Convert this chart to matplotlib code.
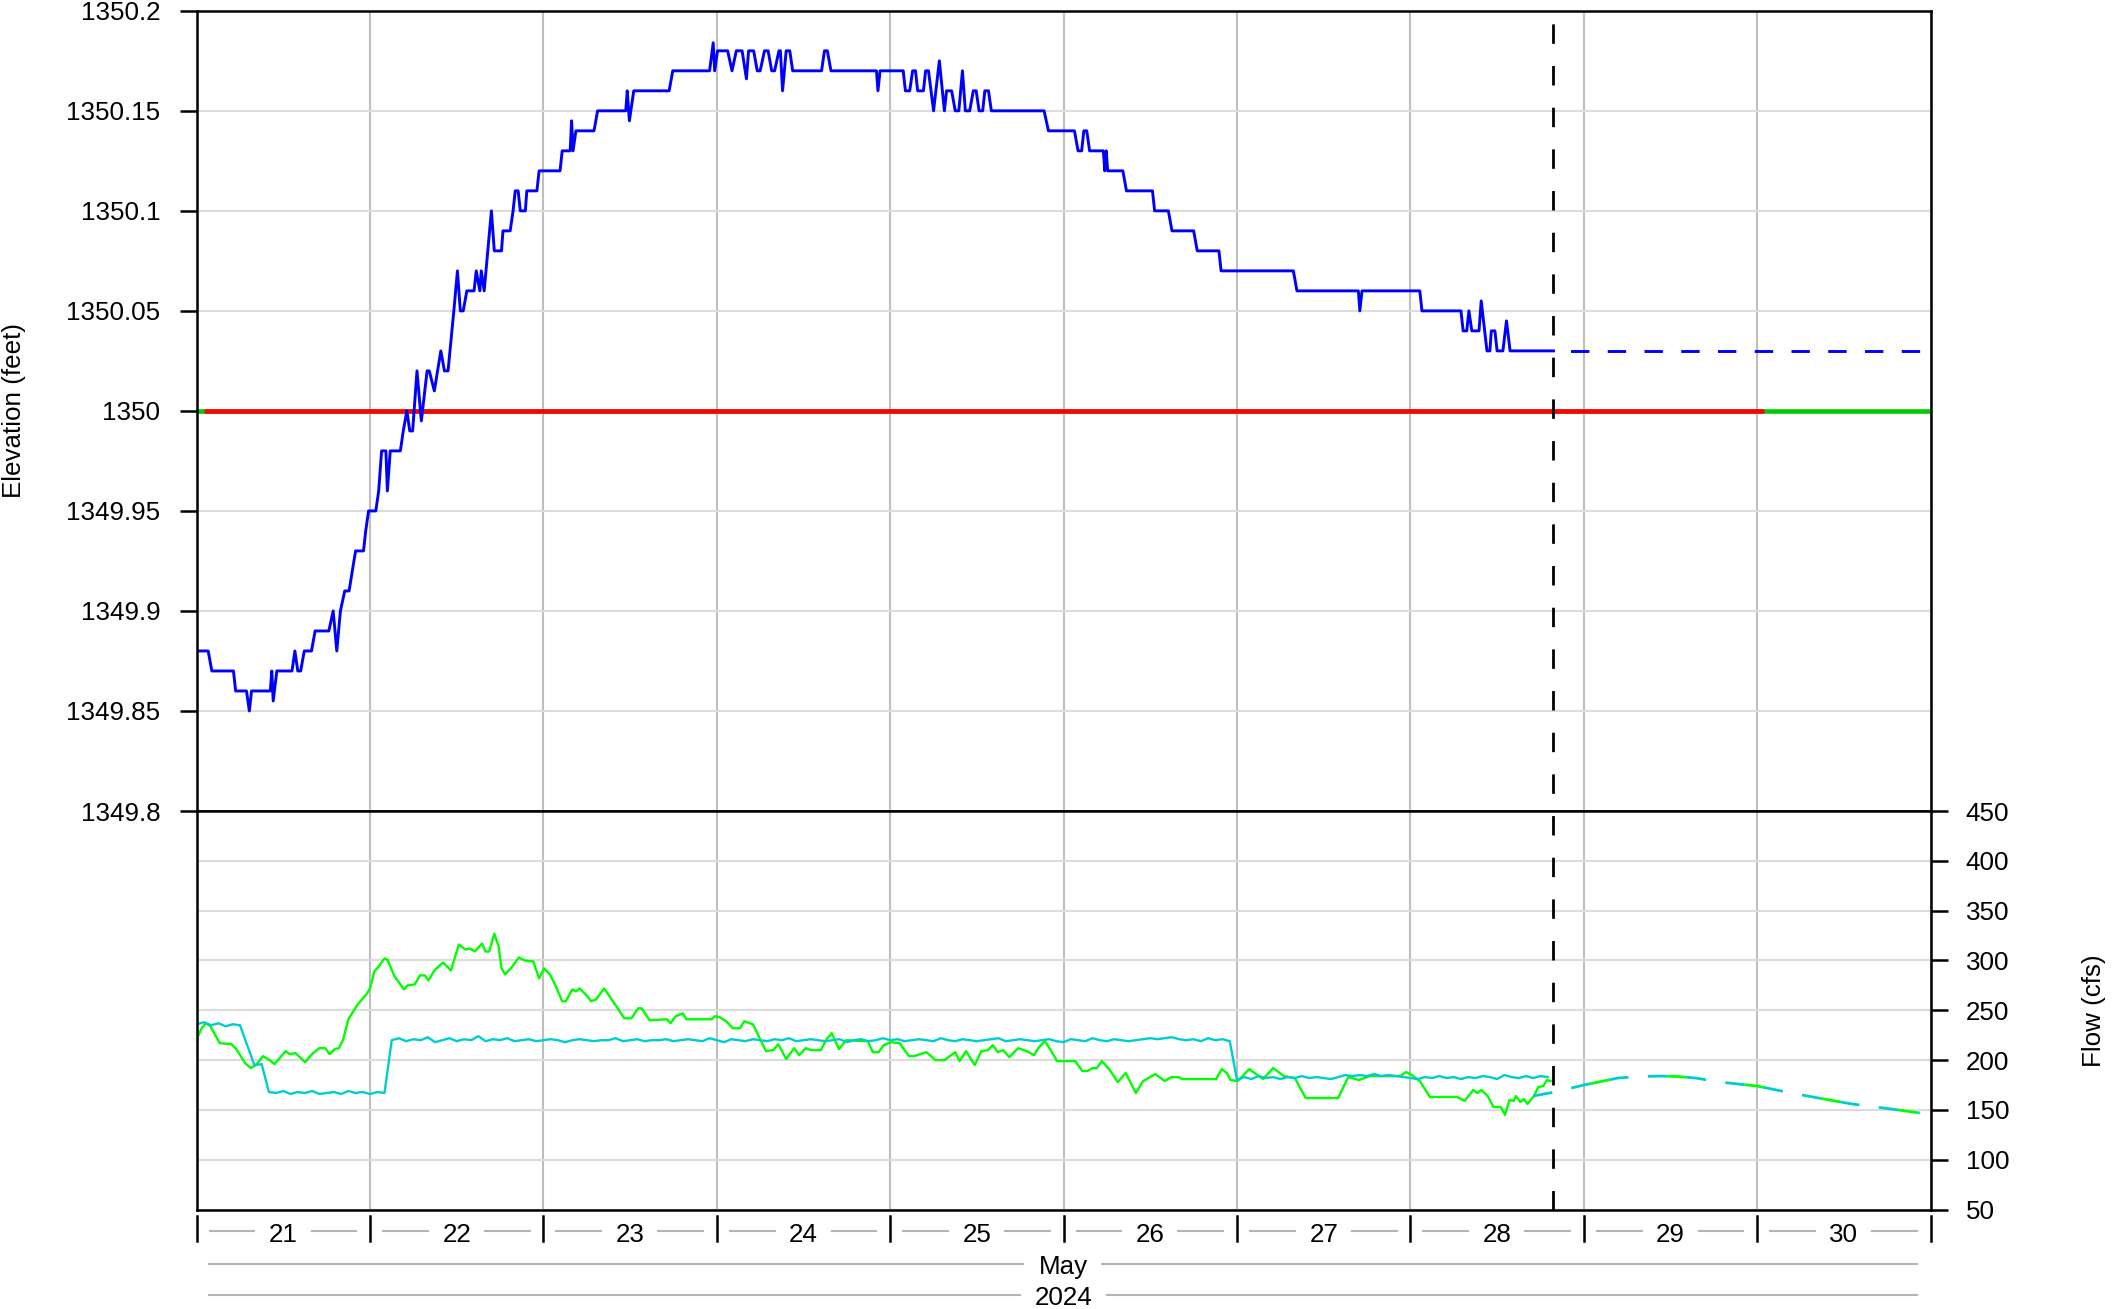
import matplotlib
matplotlib.use("Agg")
import matplotlib.pyplot as plt
import matplotlib.transforms as mtransforms
from matplotlib.lines import Line2D
import numpy as np

plt.rcParams['font.family'] = ['Liberation Sans', 'DejaVu Sans']

# time axis: hours since 2024-05-21 00:00
day_edges = [0, 24, 48, 72, 96, 120, 144, 168, 192, 216, 240]
day_labels = ['21', '22', '23', '24', '25', '26', '27', '28', '29', '30']
month_label = 'May'
year_label = '2024'
now_h = 187.8

# reservoir elevation (feet), observed
elev_t = [0, 1.6, 2.1, 5.1, 5.4, 6.9, 7.3, 7.6, 10.2, 10.4,
          10.6, 11.1, 13.2, 13.6, 14.0, 14.4, 14.9, 15.9, 16.4, 18.3,
          18.9, 19.4, 19.9, 20.5, 21.1, 22.0, 23.1, 23.4, 23.8, 24.8,
          25.2, 25.6, 26.2, 26.4, 26.8, 28.2, 28.6, 29.1, 29.5, 29.9,
          30.5, 31.1, 31.9, 32.2, 32.9, 33.8, 34.3, 34.8, 35.6, 36.1,
          36.5, 36.9, 37.4, 38.4, 38.7, 39.2, 39.4, 39.8, 40.3, 40.8,
          41.2, 42.2, 42.4, 43.4, 43.8, 44.1, 44.5, 44.8, 45.5, 45.7,
          47.1, 47.4, 50.3, 50.6, 51.7, 51.9, 52.1, 52.5, 55.0, 55.5,
          59.4, 59.6, 59.9, 60.5, 65.4, 65.9, 71.0, 71.5, 71.7, 72.1,
          73.5, 74.1, 74.7, 75.5, 76.1, 76.4, 77.1, 77.6, 78.0, 78.6,
          79.1, 79.6, 80.0, 80.6, 80.8, 81.1, 81.6, 82.1, 82.5, 86.5,
          86.9, 87.3, 87.8, 94.1, 94.3, 94.6, 97.8, 98.1, 98.7, 99.1,
          99.5, 99.8, 100.6, 100.9, 101.3, 102.0, 102.8, 103.5, 103.8, 104.5,
          105.0, 105.5, 106.0, 106.4, 107.0, 107.5, 107.9, 108.3, 108.8, 109.1,
          109.6, 110.0, 117.3, 117.9, 121.5, 122.0, 122.5, 122.8, 123.2, 123.6,
          125.5, 125.7, 125.9, 126.1, 128.2, 128.7, 132.3, 132.6, 134.5, 135.0,
          138.0, 138.5, 141.5, 141.8, 151.8, 152.3, 160.8, 161.0, 161.3, 169.3,
          169.6, 175.0, 175.3, 175.8, 176.1, 176.5, 177.5, 177.8, 178.6, 179.0,
          179.2, 179.7, 180.0, 180.8, 181.3, 181.8, 187.8]
elev_v = [1349.88, 1349.88, 1349.87, 1349.87, 1349.86, 1349.86, 1349.85, 1349.86, 1349.86, 1349.87,
          1349.855, 1349.87, 1349.87, 1349.88, 1349.87, 1349.87, 1349.88, 1349.88, 1349.89, 1349.89,
          1349.90, 1349.88, 1349.90, 1349.91, 1349.91, 1349.93, 1349.93, 1349.94, 1349.95, 1349.95,
          1349.96, 1349.98, 1349.98, 1349.96, 1349.98, 1349.98, 1349.99, 1350.00, 1349.99, 1349.99,
          1350.02, 1349.995, 1350.02, 1350.02, 1350.01, 1350.03, 1350.02, 1350.02, 1350.05, 1350.07,
          1350.05, 1350.05, 1350.06, 1350.06, 1350.07, 1350.06, 1350.07, 1350.06, 1350.08, 1350.10,
          1350.08, 1350.08, 1350.09, 1350.09, 1350.10, 1350.11, 1350.11, 1350.10, 1350.10, 1350.11,
          1350.11, 1350.12, 1350.12, 1350.13, 1350.13, 1350.145, 1350.13, 1350.14, 1350.14, 1350.15,
          1350.15, 1350.16, 1350.145, 1350.16, 1350.16, 1350.17, 1350.17, 1350.184, 1350.17, 1350.18,
          1350.18, 1350.17, 1350.18, 1350.18, 1350.166, 1350.18, 1350.18, 1350.17, 1350.17, 1350.18,
          1350.18, 1350.17, 1350.17, 1350.18, 1350.18, 1350.16, 1350.18, 1350.18, 1350.17, 1350.17,
          1350.18, 1350.18, 1350.17, 1350.17, 1350.16, 1350.17, 1350.17, 1350.16, 1350.16, 1350.17,
          1350.17, 1350.16, 1350.16, 1350.17, 1350.17, 1350.15, 1350.175, 1350.15, 1350.16, 1350.16,
          1350.15, 1350.15, 1350.17, 1350.15, 1350.15, 1350.16, 1350.16, 1350.15, 1350.15, 1350.16,
          1350.16, 1350.15, 1350.15, 1350.14, 1350.14, 1350.13, 1350.13, 1350.14, 1350.14, 1350.13,
          1350.13, 1350.12, 1350.13, 1350.12, 1350.12, 1350.11, 1350.11, 1350.10, 1350.10, 1350.09,
          1350.09, 1350.08, 1350.08, 1350.07, 1350.07, 1350.06, 1350.06, 1350.05, 1350.06, 1350.06,
          1350.05, 1350.05, 1350.04, 1350.04, 1350.05, 1350.04, 1350.04, 1350.055, 1350.03, 1350.03,
          1350.04, 1350.04, 1350.03, 1350.03, 1350.045, 1350.03, 1350.03]

# projected elevation and target level
elev_fcst_t = [187.8, 239.0]
elev_fcst_v = [1350.03, 1350.03]
target_level = 1350.0
target_span = [0, 240]
target_red_span = [1, 217]

# inflow (green), cfs
inflow_t = [0, 0.7, 1.3, 1.9, 3.2, 4.8, 5.5, 6.7, 7.5, 8.2,
            9.2, 9.9, 10.8, 12.3, 12.9, 13.7, 15.0, 16.1, 17.0, 17.8,
            18.4, 19.1, 19.7, 20.3, 21.0, 22.3, 23.5, 24.0, 24.6, 25.2,
            26.0, 26.4, 27.4, 28.7, 29.2, 30.2, 30.9, 31.6, 32.1, 32.9,
            34.1, 35.2, 36.3, 37.2, 37.8, 38.5, 39.5, 40.0, 40.5, 41.2,
            41.8, 42.2, 42.7, 43.7, 44.6, 45.4, 46.6, 47.4, 48.1, 48.9,
            49.6, 50.6, 51.1, 52.0, 52.5, 53.0, 54.1, 54.6, 55.3, 56.4,
            58.0, 59.2, 60.2, 61.1, 61.6, 62.7, 65.1, 65.6, 66.3, 67.0,
            67.3, 67.8, 71.3, 71.7, 72.4, 73.3, 74.2, 75.2, 75.8, 77.0,
            77.8, 78.8, 79.8, 80.5, 81.6, 82.7, 83.4, 84.3, 85.0, 86.4,
            87.2, 87.9, 88.9, 89.9, 92.9, 93.6, 94.4, 95.1, 96.1, 97.3,
            98.6, 99.3, 101.0, 102.3, 103.5, 105.0, 105.6, 106.5, 107.7, 108.6,
            109.5, 110.2, 110.9, 111.6, 112.5, 113.7, 114.9, 115.9, 116.6, 117.4,
            118.3, 119.1, 121.6, 122.6, 123.3, 124.0, 124.6, 125.3, 126.3, 127.5,
            128.6, 130.0, 131.0, 132.7, 134.0, 134.9, 135.9, 136.4, 141.1, 141.9,
            142.6, 143.1, 144.1, 145.7, 147.6, 149.0, 150.5, 152.0, 153.5, 158.0,
            159.4, 160.9, 162.4, 166.6, 167.4, 168.2, 169.3, 170.7, 174.5, 175.5,
            176.7, 177.3, 177.8, 178.7, 179.5, 180.5, 181.1, 181.7, 182.3, 182.6,
            183.2, 183.7, 184.2, 185.1, 185.7, 186.4, 186.9, 187.4]
inflow_q = [221, 232, 237, 234, 217, 216, 211, 197, 192, 195,
            204, 201, 196, 209, 206, 207, 198, 207, 212, 212,
            206, 211, 212, 221, 241, 256, 266, 272, 289, 294,
            302, 301, 284, 271, 275, 276, 285, 285, 280, 290,
            298, 290, 316, 311, 312, 309, 317, 309, 309, 327,
            314, 292, 286, 294, 303, 300, 299, 282, 292, 286,
            276, 259, 259, 271, 269, 272, 264, 259, 261, 272,
            255, 242, 242, 252, 252, 240, 241, 237, 244, 246,
            247, 241, 241, 244, 243, 239, 232, 232, 239, 236,
            224, 209, 210, 216, 201, 212, 205, 212, 210, 210,
            221, 227, 211, 220, 219, 208, 208, 215, 218, 217,
            204, 204, 208, 200, 200, 208, 199, 209, 195, 209,
            210, 215, 208, 210, 203, 212, 209, 205, 213, 219,
            209, 199, 199, 189, 189, 192, 192, 199, 191, 178,
            187, 167, 179, 186, 179, 183, 183, 181, 181, 191,
            187, 180, 179, 191, 181, 192, 184, 182, 162, 162,
            183, 180, 184, 184, 188, 185, 179, 163, 163, 159,
            170, 167, 170, 164, 153, 153, 145, 160, 159, 164,
            158, 161, 156, 164, 173, 174, 180, 179]

# release (cyan), one value per hour from hour 0 to 187
release_q = [236, 238, 235, 237, 234, 236, 235, 215, 195, 196,
             168, 167, 169, 166, 168, 167, 169, 166, 167, 168,
             166, 169, 167, 168, 166, 168, 167, 220, 222, 219,
             221, 220, 223, 218, 220, 222, 219, 221, 220, 224,
             219, 221, 220, 222, 219, 220, 221, 219, 220, 221,
             220, 218, 220, 221, 220, 219, 220, 220, 222, 219,
             220, 221, 219, 220, 220, 221, 219, 220, 221, 220,
             219, 222, 220, 218, 221, 220, 219, 221, 220, 219,
             221, 220, 222, 219, 220, 221, 220, 219, 220, 221,
             218, 220, 221, 219, 220, 222, 220, 221, 219, 220,
             221, 220, 219, 222, 220, 219, 221, 220, 219, 220,
             221, 222, 219, 220, 221, 220, 219, 220, 221, 219,
             218, 221, 220, 219, 222, 220, 219, 221, 220, 219,
             220, 221, 222, 221, 222, 223, 221, 220, 221, 219,
             222, 220, 221, 219, 180, 183, 181, 184, 182, 183,
             181, 183, 182, 184, 182, 183, 182, 181, 183, 185,
             184, 185, 184, 186, 184, 185, 184, 183, 182, 181,
             183, 182, 184, 182, 183, 181, 183, 182, 184, 183,
             181, 185, 183, 182, 184, 182, 184, 183]
release_t = list(range(len(release_q)))

# forecast flow
fcst_t = [185.0, 188.0, 192.0, 196.7, 199.5, 202.7, 205.0, 207.5, 210.8, 216.0,
          220.0, 223.7, 229.1, 234.5, 238.5]
fcst_q = [164, 168, 175, 182, 183.5, 184, 183.5, 182, 178, 174,
          168, 163, 156, 151, 147]

elev_ticks = [1349.8, 1349.85, 1349.9, 1349.95, 1350.0, 1350.05, 1350.1, 1350.15, 1350.2]
elev_ticklabels = ['1349.8', '1349.85', '1349.9', '1349.95', '1350', '1350.05', '1350.1', '1350.15', '1350.2']
flow_ticks = [50, 100, 150, 200, 250, 300, 350, 400, 450]

fig = plt.figure(figsize=(21.12, 13.09), dpi=100)
L, R = 0.0931, 0.9141
T, M, B = 0.99175, 0.38044, 0.07594
ax1 = fig.add_axes([L, M, R - L, T - M])
ax2 = fig.add_axes([L, B, R - L, M - B])

fs = 18.7
vgrid = '#BEBEBE'
hgrid = '#DCDCDC'

for ax in (ax1, ax2):
    ax.set_xlim(0, 240)
    ax.set_xticks(day_edges)
    ax.tick_params(axis='x', length=0, labelbottom=False)
    ax.set_axisbelow(True)
    ax.grid(axis='x', color=vgrid, lw=1.5)
    ax.grid(axis='y', color=hgrid, lw=1.5)
    for s in ax.spines.values():
        s.set_linewidth(1.8)
        s.set_color('black')

# upper panel: elevation
ax1.set_ylim(1349.8, 1350.2)
ax1.set_yticks(elev_ticks)
ax1.set_yticklabels(elev_ticklabels)
ax1.tick_params(axis='y', direction='out', length=12.2, width=1.8, pad=14, labelsize=fs)

ax1.plot(target_span, [target_level] * 2, color='#00CD00', lw=3.3, solid_capstyle='butt')
ax1.plot(target_red_span, [target_level] * 2, color='#FF0000', lw=3.3, solid_capstyle='butt')
ax1.plot(elev_t, elev_v, color='#0000FF', lw=2.1)
ax1.plot(elev_fcst_t, elev_fcst_v, color='#0000FF', lw=2.1, linestyle=(6.6, (6.3, 6.3)))

# lower panel: flows
ax2.set_ylim(50, 450)
ax2.set_yticks(flow_ticks)
ax2.yaxis.tick_right()
ax2.tick_params(axis='y', which='both', left=False, right=True, labelleft=False, labelright=True,
                direction='out', length=12.2, width=1.8, pad=13, labelsize=fs)

ax2.plot(inflow_t, inflow_q, color='#00FF00', lw=1.7)
ax2.plot(release_t, release_q, color='#00CDCD', lw=1.7)
ax2.plot(fcst_t, fcst_q, color='#00FF00', lw=2.0, linestyle=(7, (7, 21)))
ax2.plot(fcst_t, fcst_q, color='#00CDCD', lw=2.0, linestyle=(0, (7, 7)))

# current time marker across both panels
ttop = mtransforms.blended_transform_factory(ax2.transData, fig.transFigure)
fig.add_artist(Line2D([now_h, now_h], [B, T], transform=ttop, color='black', lw=2.0,
                      linestyle=(0, (7, 8))))

# axis titles
fig.text(14 / 2112, (T + M) / 2, 'Elevation (feet)', rotation=90, ha='center', va='center', fontsize=fs)
fig.text(2094 / 2112, (M + B) / 2, 'Flow (cfs)', rotation=90, ha='center', va='center', fontsize=fs)

# date rows under the plot
tr = mtransforms.blended_transform_factory(ax2.transData, ax2.transAxes)
dash_col = '#B4B4B4'
for e in day_edges:
    ax2.plot([e, e], [-0.0168, -0.0778], color='black', lw=1.8, transform=tr, clip_on=False)
for i, lab in enumerate(day_labels):
    c = day_edges[i] + 12
    ax2.plot([c - 10.2, c - 4.0], [-0.054, -0.054], color=dash_col, lw=1.5, transform=tr, clip_on=False)
    ax2.plot([c + 3.9, c + 10.1], [-0.054, -0.054], color=dash_col, lw=1.5, transform=tr, clip_on=False)
    ax2.text(c, -0.081, lab, ha='center', va='baseline', fontsize=fs, transform=tr)

mid_h = 120
ax2.plot([1.7, mid_h - 5.6], [-0.1355, -0.1355], color=dash_col, lw=1.5, transform=tr, clip_on=False)
ax2.plot([mid_h + 5.3, 238.1], [-0.1355, -0.1355], color=dash_col, lw=1.5, transform=tr, clip_on=False)
ax2.text(mid_h, -0.1613, month_label, ha='center', va='baseline', fontsize=fs, transform=tr)
ax2.plot([1.7, mid_h - 6.1], [-0.2145, -0.2145], color=dash_col, lw=1.5, transform=tr, clip_on=False)
ax2.plot([mid_h + 6.0, 238.1], [-0.2145, -0.2145], color=dash_col, lw=1.5, transform=tr, clip_on=False)
ax2.text(mid_h, -0.2403, year_label, ha='center', va='baseline', fontsize=fs, transform=tr)

fig.savefig('out.png', dpi=100)
